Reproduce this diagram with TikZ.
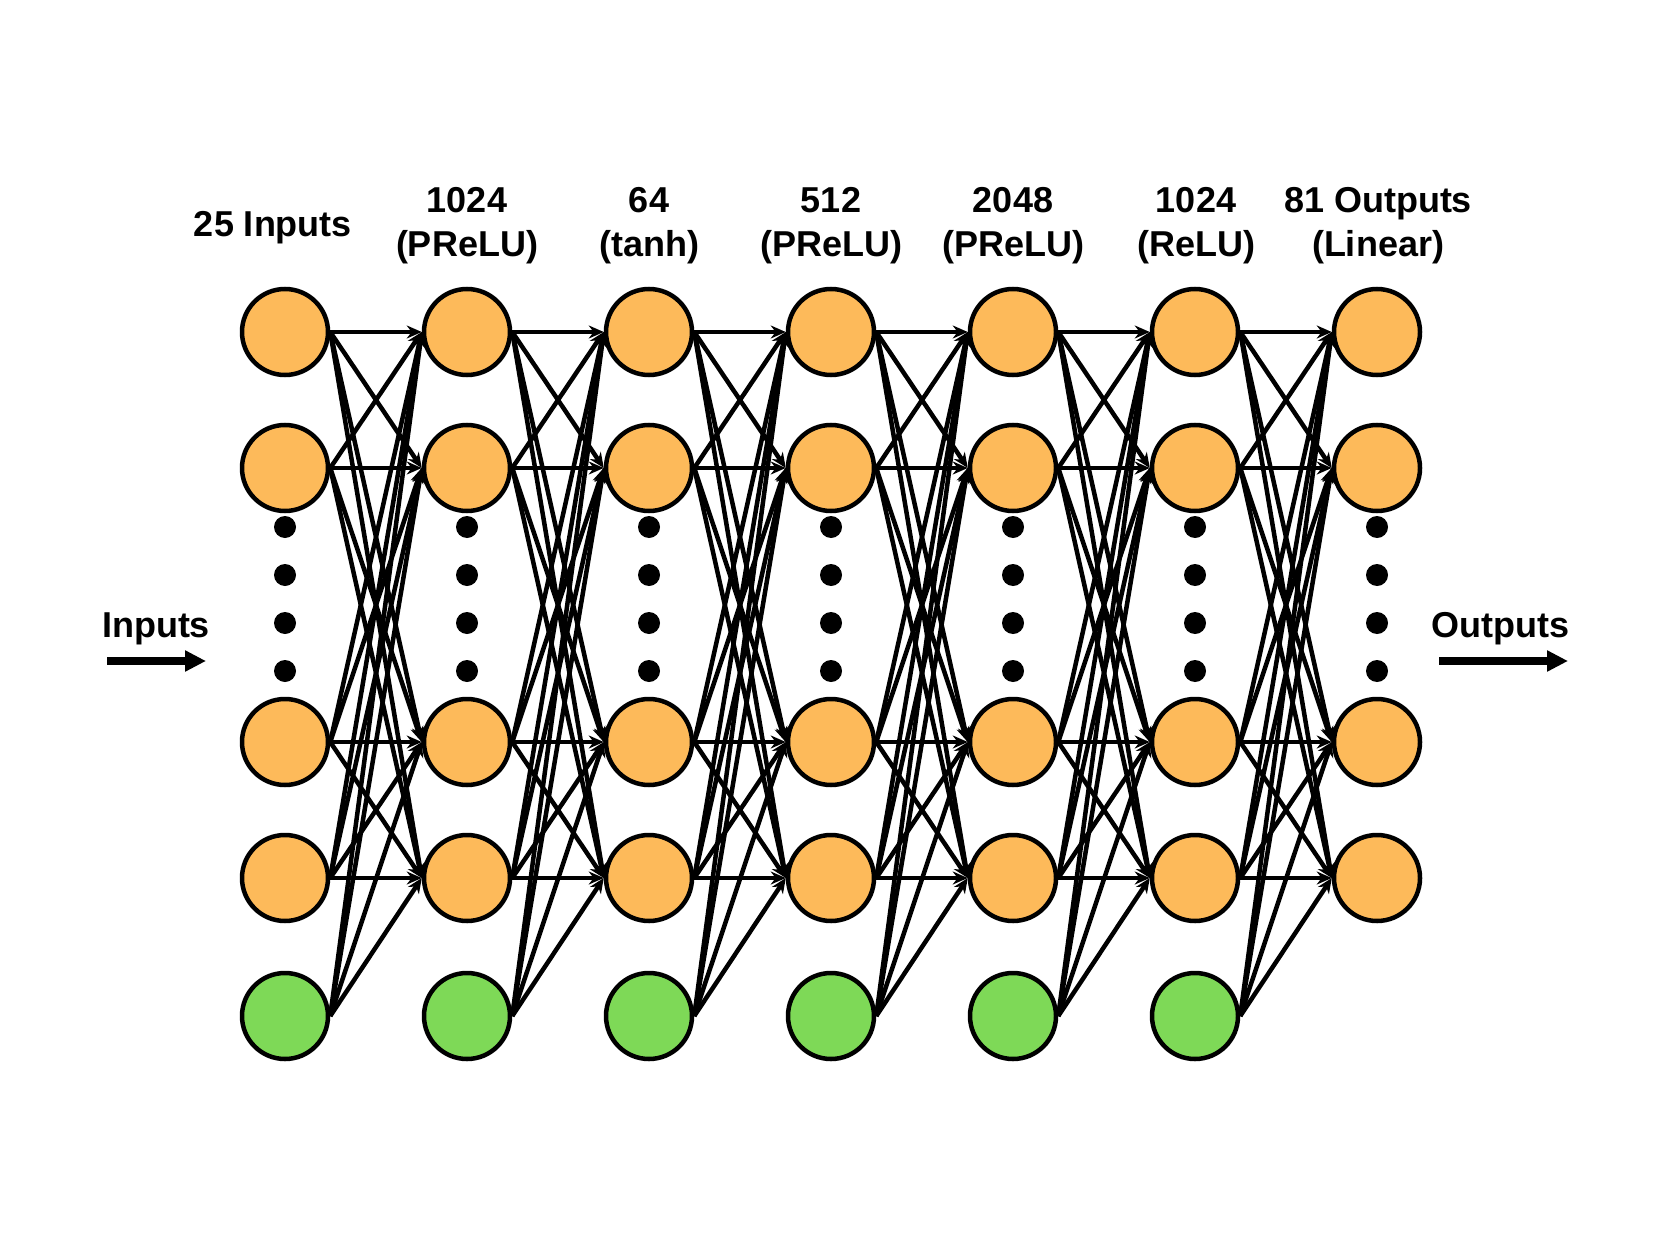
\documentclass[tikz,border=0pt]{standalone}
\usepackage{fontspec}
\setmainfont{Liberation Sans}
\usetikzlibrary{arrows.meta,positioning}

\definecolor{neuron}{RGB}{253,186,90}
\definecolor{biasgreen}{RGB}{126,217,87}

\tikzset{
    unit/.style={circle,draw=black,line width=4.5pt,minimum size=86pt,inner sep=0pt},
    hidden/.style={unit,fill=neuron},
    biasunit/.style={unit,fill=biasgreen},
    dot/.style={circle,fill=black,minimum size=22pt,inner sep=0pt},
    conn/.style={line width=4.5pt,-{Stealth[length=15pt,width=13pt]}},
    iotext/.style={font=\bfseries\fontsize{36}{44}\selectfont,anchor=base},
    layertext/.style={font=\bfseries\fontsize{36}{44}\selectfont,align=center,anchor=base},
    ioarrow/.style={line width=8pt,-{Triangle[length=21pt,width=20pt]}}
}

\begin{document}
\begin{tikzpicture}[x=1pt,y=-1pt]
    \useasboundingbox (0,0) rectangle (1661,1246);

    % Layers of units
    \foreach \c [count=\i] in {285,467,649,831,1013,1195,1377} {
        \foreach \r/\y in {1/332,2/468,3/742,4/878}
            \node[hidden] (n\i-\r) at (\c,\y) {};
        \foreach \d/\y in {1/527,2/575,3/623,4/671}
            \node[dot] (d\i-\d) at (\c,\y) {};
    }

    % Bias units
    \foreach \c [count=\i] in {285,467,649,831,1013,1195}
        \node[biasunit] (b\i) at (\c,1016) {};

    % Weights
    \foreach \i in {1,...,6} {
        \pgfmathtruncatemacro{\j}{\i+1}
        \foreach \t in {1,...,4} {
            \foreach \s in {1,...,4}
                \draw[conn] (n\i-\s.east) -- (n\j-\t.west);
            \draw[conn] (b\i.east) -- (n\j-\t.west);
        }
    }

    % Layer sizes
    \node[iotext] (l1) at (273,237) {25 Inputs};
    \node[layertext] (l2) at (467,257) {1024\\(PReLU)};
    \node[layertext] (l3) at (649,257) {64\\(tanh)};
    \node[layertext] (l4) at (831,257) {512\\(PReLU)};
    \node[layertext] (l5) at (1013,257) {2048\\(PReLU)};
    \node[layertext] (l6) at (1196,257) {1024\\(ReLU)};
    \node[layertext] (l7) at (1378,257) {81 Outputs\\(Linear)};

    % Inputs / Outputs
    \node[iotext] (intext) at (156,637) {Inputs};
    \coordinate (inA) at (107,661);
    \coordinate (inB) at (206,661);
    \draw[ioarrow] (inA) -- (inB);

    \node[iotext] (outtext) at (1500,637) {Outputs};
    \coordinate (outA) at (1439,661);
    \coordinate (outB) at (1568,661);
    \draw[ioarrow] (outA) -- (outB);
\end{tikzpicture}
\end{document}
